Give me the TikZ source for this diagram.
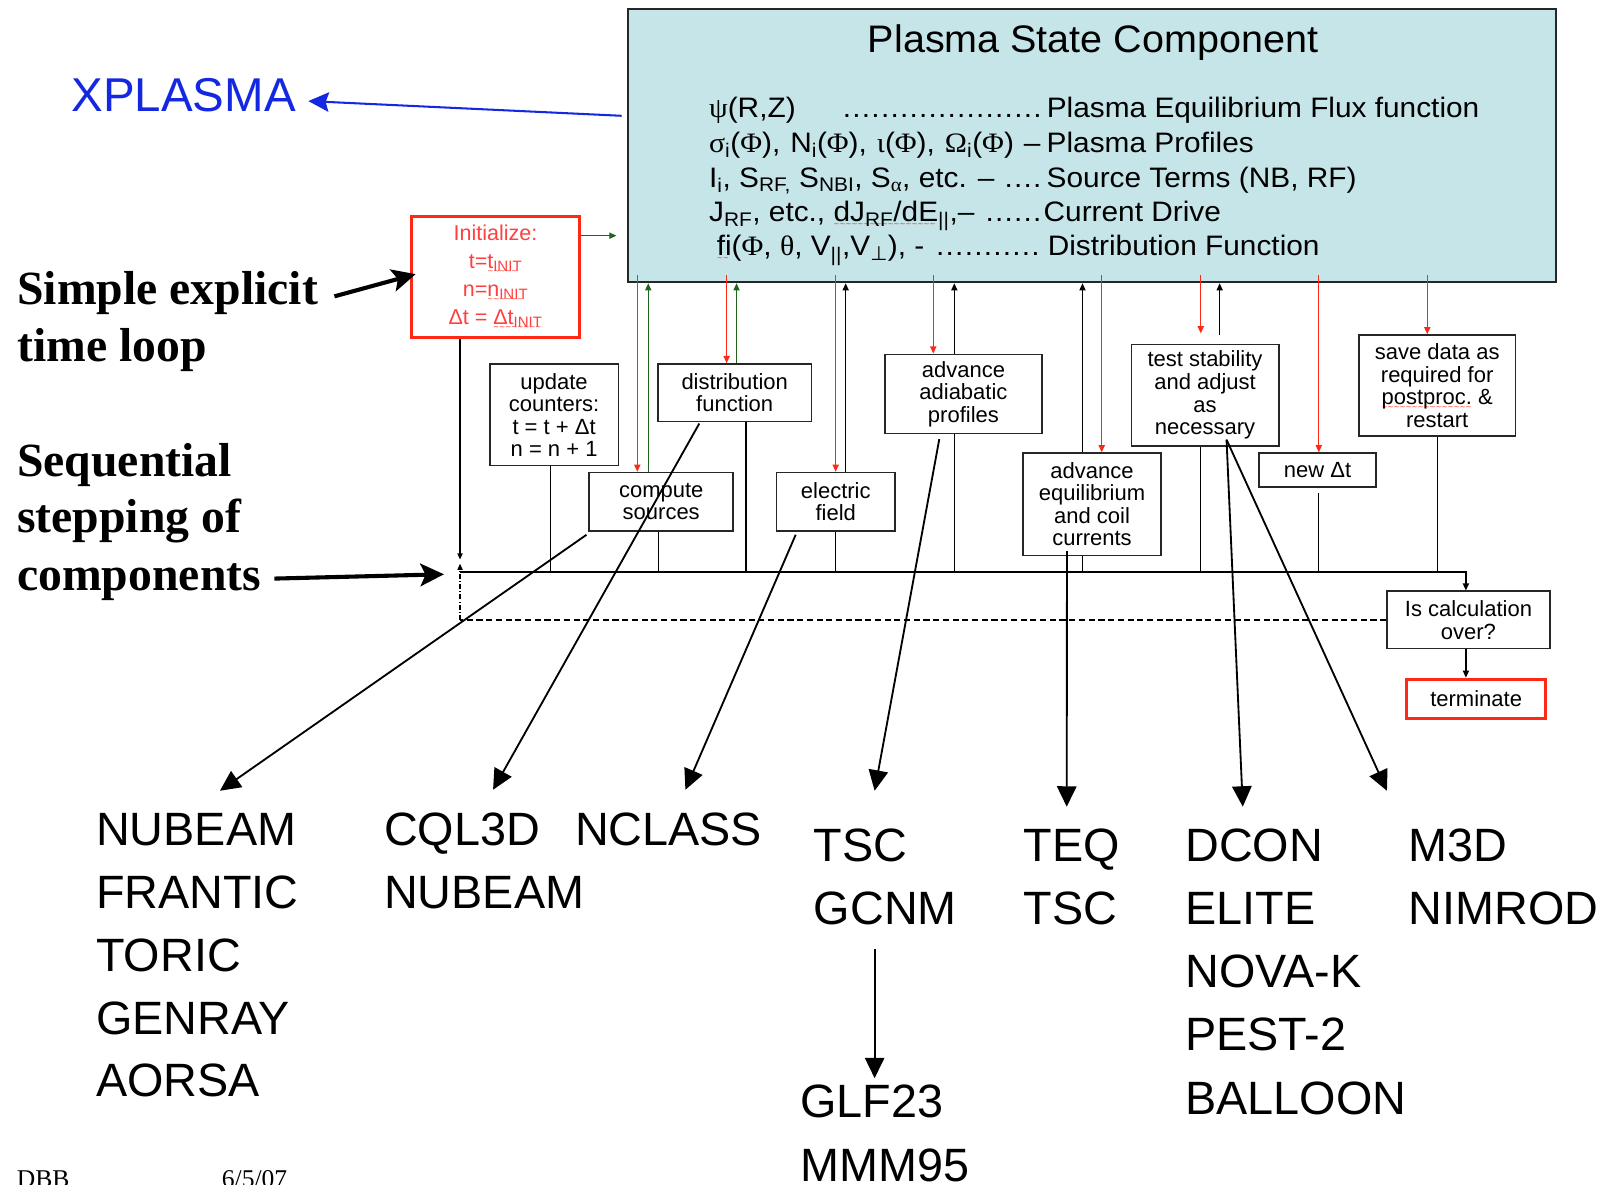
\documentclass[tikz,border=0pt]{standalone}
\usepackage{fontspec}
\setmainfont{Liberation Sans}
\newfontfamily\tnr{Liberation Serif}
\newfontfamily\boxf[FakeStretch=1.06]{Liberation Sans}
\newfontfamily\titlef[FakeStretch=1.03]{Liberation Sans}
\newfontfamily\gk[FakeStretch=1.06]{Liberation Serif}
\newfontfamily\djv{DejaVu Sans}
\usetikzlibrary{arrows.meta}
\definecolor{cred}{RGB}{255,40,20}
\definecolor{ctxt}{RGB}{255,64,64}
\definecolor{cgrn}{RGB}{30,100,30}
\definecolor{cblue}{RGB}{20,40,225}
\definecolor{cfill}{RGB}{198,229,233}
\newcommand\G[1]{{\gk #1}}
\newcommand\dotlead{\leaders\hbox to 9.3pt{\hss.\hss}\hfill}
\newsavebox\sqbox
\newcommand\sq[1]{\leavevmode\sbox\sqbox{#1}\rlap{\raisebox{-5pt}{\textcolor{cred}{\fontsize{7}{7}\djv\leaders\hbox{∼}\hskip\wd\sqbox}}}\usebox\sqbox}
\begin{document}
\begin{tikzpicture}[x=1pt,y=-1pt,
  sbox/.style={draw=black!85, line width=1.6pt, inner sep=0pt, align=center, font=\fontsize{21.5}{22}\selectfont},
  conn/.style={line width=1.3pt},
  tipS/.style={-{Triangle[length=7pt,width=6pt]}},
  redarr/.style={conn, draw=cred, tipS},
  grnarr/.style={conn, draw=cgrn, tipS},
  blkarr/.style={conn, tipS},
  bigarr/.style={line width=1.8pt, -{Triangle[length=20pt,width=19pt]}},
  thk/.style={line width=4pt, -{Stealth[length=23pt,width=22pt,inset=5pt]}},
  big/.style={inner sep=0pt, anchor=base west, font=\fontsize{45.7}{50}\selectfont},
  tms/.style={inner sep=0pt, anchor=base west, font=\tnr\bfseries\fontsize{46.6}{50}\selectfont},
  fl/.style={inner sep=0pt, anchor=base west, font=\boxf\fontsize{27.5}{30}\selectfont},
]
\useasboundingbox (0,0) rectangle (1568,1158);
\clip (0,0) rectangle (1568,1158);
\fill[white] (0,0) rectangle (1568,1158);

% Plasma state component
\node[draw=black!85, line width=1.8pt, fill=cfill, minimum width=907.5pt, minimum height=267pt, inner sep=0pt] (main) at (1067.3,142.5) {};
\node[anchor=base, inner sep=0pt, font=\titlef\fontsize{37.5}{40}\selectfont] (title) at (1068.5,51.5) {Plasma State Component};
\node[fl] (f1) at (693,115) {\hbox to 330pt{\hbox to 121pt{\G{ψ}(R,Z)\hfil}\dotlead}Plasma Equilibrium Flux function};
\node[fl] (f2) at (693,149) {\hbox to 330pt{\hbox to 324pt{\G{σ}\textsubscript{i}(\G{Φ}), N\textsubscript{i}(\G{Φ}), \G{ι}(\G{Φ}), \G{Ω}\textsubscript{i}(\G{Φ}) –}\hfill}Plasma Profiles};
\node[fl] (f3) at (693,183) {\hbox to 330pt{I\textsubscript{i}, S\textsubscript{RF,} S\textsubscript{NBI}, S\textsubscript{\G{α}}, etc. – \dotlead}Source Terms (NB, RF)};
\node[fl] (f4) at (693,216.5) {\hbox to 327pt{J\textsubscript{RF}, etc., \sq{dJ\textsubscript{RF}/dE}\textsubscript{||},– \dotlead}Current Drive};
\node[fl] (f5) at (700.5,250) {\hbox to 323.5pt{\sq{fi}(\G{Φ}, \G{θ}, V\textsubscript{||},V\textsubscript{{\djv ⊥}}), - \dotlead}Distribution Function};

% left labels
\node[inner sep=0pt, anchor=base west, text=cblue, font=\fontsize{46.4}{50}\selectfont] (xpl) at (69.8,109.3) {XPLASMA};
\node[tms] (s1) at (16.7,297.5) {Simple explicit};
\node[tms] (s2) at (16.7,353) {time loop};
\node[tms] (s3) at (16.7,465.5) {Sequential};
\node[tms] (s4) at (16.7,521) {stepping of};
\node[tms] (s5) at (16.7,577) {components};

% boxes
\node[draw=cred, line width=3pt, minimum width=164.4pt, minimum height=118pt, inner sep=0pt, align=center, text=ctxt, font=\fontsize{21}{27.3}\selectfont] (init) at (484.4,271)
  {Initialize:\\t=\sq{t\textsubscript{INIT}}\\n=\sq{n\textsubscript{INIT}}\\Δt = \sq{Δt\textsubscript{INIT}}};
\node[sbox, minimum width=125.7pt, minimum height=99pt] (upd) at (541.65,405.5) {update\\counters:\\t = t + Δt\\n = n + 1};
\node[sbox, minimum width=140.8pt, minimum height=56.8pt] (comp) at (646.4,490.4) {compute\\sources};
\node[sbox, minimum width=150.4pt, minimum height=56.4pt] (dist) at (718.2,384) {distribution\\function};
\node[sbox, minimum width=115.7pt, minimum height=56.8pt] (elec) at (817,490.4) {electric\\field};
\node[sbox, minimum width=153.4pt, minimum height=77.2pt] (adia) at (941.8,385) {advance\\adiabatic\\profiles};
\node[sbox, minimum width=135pt, minimum height=100pt] (equi) at (1067.5,493) {advance\\equilibrium\\and coil\\currents};
\node[sbox, minimum width=144pt, minimum height=99pt] (test) at (1178,386.2) {test stability\\and adjust\\as\\necessary};
\node[sbox, minimum width=114pt, minimum height=33pt] (newdt) at (1288,459.5) {new Δt};
\node[sbox, minimum width=153pt, minimum height=98.7pt] (save) at (1404.9,376.9) {save data as\\required for\\\sq{postproc.} \&\\restart};
\node[sbox, minimum width=159pt, minimum height=56pt] (calc) at (1435.5,606) {Is calculation\\over?};
\node[sbox, draw=cred, line width=3pt, minimum width=136pt, minimum height=38pt] (term) at (1443,683) {terminate};

% code names
\foreach \t [count=\i] in {NUBEAM,FRANTIC,TORIC,GENRAY,AORSA}
  \node[big] (la\i) at (93.8,{826.7+61.4*(\i-1)}) {\t};
\foreach \t [count=\i] in {CQL3D,NUBEAM}
  \node[big] (lb\i) at (375.4,{826.7+61.4*(\i-1)}) {\t};
\node[big] (lc1) at (562,826.7) {NCLASS};
\foreach \t [count=\i] in {TSC,GCNM}
  \node[big] (ld\i) at (795.5,{842.6+61.6*(\i-1)}) {\t};
\foreach \t [count=\i] in {GLF23,MMM95}
  \node[big] (le\i) at (782.4,{1092.8+61.7*(\i-1)}) {\t};
\foreach \t [count=\i] in {TEQ,TSC}
  \node[big] (lf\i) at (1000.7,{842.6+61.6*(\i-1)}) {\t};
\foreach \t [count=\i] in {DCON,ELITE,NOVA-K,PEST-2,BALLOON}
  \node[big] (lg\i) at (1158.6,{842.6+61.6*(\i-1)}) {\t};
\foreach \t [count=\i] in {M3D,NIMROD}
  \node[big] (lh\i) at (1377,{842.6+61.6*(\i-1)}) {\t};

\node[inner sep=0pt, anchor=base west, font=\tnr\fontsize{25}{28}\selectfont] (dbb) at (16.3,1160.5) {DBB};
\node[inner sep=0pt, anchor=base west, font=\tnr\fontsize{25}{28}\selectfont] (date) at (216.7,1160.5) {6/5/07};

% connectors to/from plasma state
\coordinate (mS) at ([shift={(0,-8)}]main.south);
\foreach \b/\dx in {comp/-23.4, dist/-7.9, elec/-0.1, adia/-29.5, equi/9.5, newdt/1.2, save/-9.7}{
  \coordinate (r\b) at ([shift={(\dx,0)}]\b.north);
  \draw[redarr] (r\b |- mS) -- (r\b);
}
\coordinate (rtest) at ([shift={(-4.2,-10)}]test.north);
\draw[redarr] (rtest |- mS) -- (rtest);
\foreach \b/\dx in {comp/-12.7, dist/1.8}{
  \coordinate (g\b) at ([shift={(\dx,0)}]\b.north);
  \draw[grnarr] (g\b) -- (g\b |- main.south);
}
\foreach \b/\dx in {elec/9.7, adia/-8.9, equi/-9.3}{
  \coordinate (k\b) at ([shift={(\dx,0)}]\b.north);
  \draw[blkarr] (k\b) -- (k\b |- main.south);
}
\coordinate (ktest) at ([shift={(14.3,-8)}]test.north);
\draw[blkarr] (ktest) -- (ktest |- main.south);
\coordinate (ig) at ([shift={(0,-40.6)}]init.east);
\draw[grnarr, shorten >=10pt] (ig) -- (ig -| main.west);

% bus
\coordinate (busL) at (449.7,559);
\coordinate (busR) at (1433,559);
\foreach \b/\dx in {upd/-3.65, comp/-2.9, dist/11, elec/0, adia/-8.9, equi/-9.3, test/-4.2, save/0.4}{
  \coordinate (b\b) at ([shift={(\dx,0)}]\b.south);
  \draw[conn] (b\b) -- (b\b |- busL);
}
\coordinate (bnewdt) at ([shift={(1.2,5)}]newdt.south);
\draw[conn] (bnewdt) -- (bnewdt |- busL);
\coordinate (binit) at ([shift={(-34.7,0)}]init.south);
\coordinate (initT) at (449.7,547);
\draw[conn, -{Triangle[length=6pt,width=5pt]}] (binit) -- (initT);
\draw[line width=1.8pt, -{Triangle[length=7pt,width=6pt]}] (busL) -- (busR) -- (busR |- calc.north);
\coordinate (ccal) at ([shift={(-2.5,0)}]calc.south);
\draw[blkarr] (ccal) -- (ccal |- term.north);
\coordinate (loopB) at (449.7,606);
\coordinate (loopT) at (449.7,551);
\draw[line width=1.5pt, dash pattern=on 6pt off 3.5pt] (calc.west) -- (loopB);
\draw[line width=1.2pt, dash pattern=on 5pt off 2pt on 1pt off 2pt, -{Triangle[length=6pt,width=5pt]}] (loopB) -- (loopT);

% label arrows
\draw[cblue, line width=2pt, -{Stealth[length=20pt,width=19pt,inset=3pt]}] ([shift={(-5,-29.3)}]main.west) -- ([shift={(12,-10.5)}]xpl.base east);
\draw[thk] ([shift={(16,-7.8)}]s1.base east) -- ([shift={(5.6,-3)}]init.west);
\draw[thk] ([shift={(13,-11.4)}]s5.base east) -- ([shift={(-15.7,2.4)}]busL);

% long arrows to codes
\draw[bigarr] ([shift={(-1.9,3.2)}]comp.south west) -- ([shift={(121.2,-53.7)}]la1.base west);
\draw[bigarr] ([shift={(-34.6,1)}]dist.south) -- ([shift={(106.6,-54.7)}]lb1.base west);
\draw[bigarr] ([shift={(-39.2,3.2)}]elec.south) -- ([shift={(108,-54.7)}]lc1.base west);
\draw[bigarr] ([shift={(-23.6,4.9)}]adia.south) -- ([shift={(59.5,-69.6)}]ld1.base west);
\draw[bigarr] ([shift={(-24.5,-5)}]equi.south) -- ([shift={(42.1,-54)}]lf1.base west);
\draw[bigarr] ([shift={(21,-6.7)}]test.south) -- ([shift={(56.3,-54)}]lg1.base west);
\draw[bigarr] ([shift={(21,-6.7)}]test.south) -- ([shift={(-21.2,-69.6)}]lh1.base west);
\draw[bigarr] ([shift={(59.5,23.8)}]ld2.base west) -- ([shift={(72.6,-38.8)}]le1.base west);
\end{tikzpicture}
\end{document}
